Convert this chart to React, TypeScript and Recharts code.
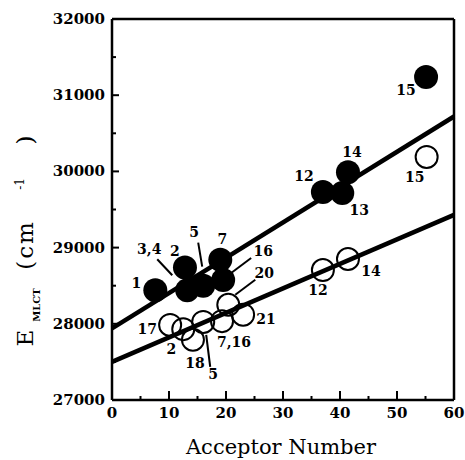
import { ScatterChart, Scatter, XAxis, YAxis, ReferenceLine } from "recharts"

// filled circles (upper series)
const filledLabels = ["1", "2", "3,4", "5", "7", "16", "12", "13", "14", "15"]
const filledAN = [7.6, 12.8, 13.2, 16.0, 19.0, 19.5, 37.0, 40.4, 41.4, 55.1]
const filledE = [28440, 28740, 28440, 28500, 28840, 28575, 29730, 29715, 29990, 31240]

// open circles (lower series)
const openLabels = ["17", "2", "18", "5", "7,16", "20", "21", "12", "14", "15"]
const openAN = [10.2, 12.5, 14.2, 16.0, 19.3, 20.4, 23.0, 37.0, 41.4, 55.2]
const openE = [27985, 27930, 27790, 28025, 28035, 28250, 28120, 28705, 28850, 30190]

// least-squares lines, value at AN = 0 and AN = 60
const fitAN = [0, 60]
const filledFit = [27940, 30720]
const openFit = [27500, 29430]

const xTicks = [0, 5, 10, 15, 20, 25, 30, 35, 40, 45, 50, 55, 60]
const yTicks = [27000, 27500, 28000, 28500, 29000, 29500, 30000, 30500, 31000, 31500, 32000]

interface Pt {
    an: number
    e: number
    label: string
}

const filledData: Pt[] = filledAN.map((an, i) => ({ an, e: filledE[i], label: filledLabels[i] }))
const openData: Pt[] = openAN.map((an, i) => ({ an, e: openE[i], label: openLabels[i] }))

// where each number sits relative to its circle, with optional pointer line
type Place = { dx: number; dy: number; lead?: number[] }
const filledPlace: Record<string, Place> = {
    "1": { dx: -19, dy: -7 },
    "2": { dx: -10, dy: -16 },
    "3,4": { dx: -38, dy: -41, lead: [-30, -31, -15, -15] },
    "5": { dx: -9, dy: -54, lead: [-5, -43, -1, -19] },
    "7": { dx: 2, dy: -21 },
    "16": { dx: 40, dy: -29, lead: [28, -22, 8, -7] },
    "12": { dx: -19, dy: -16 },
    "13": { dx: 17, dy: 17 },
    "14": { dx: 4, dy: -20 },
    "15": { dx: -20, dy: 13 },
}
const openPlace: Record<string, Place> = {
    "17": { dx: -23, dy: 4 },
    "2": { dx: -12, dy: 20 },
    "18": { dx: 2, dy: 23 },
    "5": { dx: 10, dy: 52, lead: [7, 45, 3, 13] },
    "7,16": { dx: 12, dy: 21 },
    "20": { dx: 36, dy: -32, lead: [27, -25, 7, -10] },
    "21": { dx: 23, dy: 4 },
    "12": { dx: -5, dy: 20 },
    "14": { dx: 23, dy: 12 },
    "15": { dx: -12, dy: 20 },
}

const serif = "'DejaVu Serif', serif"

function BottomTick({ x, y, payload }: any) {
    const major = payload.value % 10 === 0
    return (
        <g>
            <line x1={x} y1={y} x2={x} y2={y - (major ? 9 : 4)} stroke="#000" strokeWidth={2} />
            {major && (
                <text x={x} y={y + 18} textAnchor="middle" fontFamily={serif} fontWeight="bold" fontSize={15} fill="#000">
                    {payload.value}
                </text>
            )}
        </g>
    )
}

function TopTick({ x, y, payload }: any) {
    const major = payload.value % 10 === 0
    return <line x1={x} y1={y} x2={x} y2={y + (major ? 8 : 4)} stroke="#000" strokeWidth={2} />
}

function LeftTick({ x, y, payload }: any) {
    const major = payload.value % 1000 === 0
    return (
        <g>
            <line x1={x} y1={y} x2={x + (major ? 7 : 4)} y2={y} stroke="#000" strokeWidth={2} />
            {major && (
                <text x={x - 7} y={y + 5} textAnchor="end" fontFamily={serif} fontWeight="bold" fontSize={15} fill="#000">
                    {payload.value}
                </text>
            )}
        </g>
    )
}

function RightTick({ x, y, payload }: any) {
    const major = payload.value % 1000 === 0
    return <line x1={x} y1={y} x2={x - (major ? 7 : 4)} y2={y} stroke="#000" strokeWidth={2} />
}

function YTitle() {
    const big = 23
    return (
        <g fontFamily={serif} fill="#000">
            <text x={33} y={338} transform="rotate(-90 33 338)" textAnchor="middle" fontSize={big}>E</text>
            <text x={40} y={305} transform="rotate(-90 40 305)" textAnchor="middle" fontSize={10} fontWeight="bold">MLCT</text>
            <text x={33} y={245} transform="rotate(-90 33 245)" textAnchor="middle" fontSize={big} letterSpacing={2}>(cm</text>
            <text x={24} y={184} transform="rotate(-90 24 184)" textAnchor="middle" fontSize={12}>-1</text>
            <text x={33} y={140} transform="rotate(-90 33 140)" textAnchor="middle" fontSize={big}>)</text>
        </g>
    )
}

function XTitle() {
    return (
        <text x={281} y={454} textAnchor="middle" fontFamily={serif} fontSize={21} fill="#000">
            Acceptor Number
        </text>
    )
}

function FilledDot({ cx, cy }: any) {
    return <circle cx={cx} cy={cy} r={12} fill="#000" />
}

function OpenDot({ cx, cy }: any) {
    return <circle cx={cx} cy={cy} r={11} fill="none" stroke="#000" strokeWidth={2} />
}

function makeLabel(places: Record<string, Place>) {
    return function PointLabel({ cx, cy, payload }: any) {
        const p = places[payload.label]
        if (!p) return <g />
        return (
            <g>
                {p.lead && (
                    <line
                        x1={cx + p.lead[0]}
                        y1={cy + p.lead[1]}
                        x2={cx + p.lead[2]}
                        y2={cy + p.lead[3]}
                        stroke="#000"
                        strokeWidth={2}
                    />
                )}
                <text
                    x={cx + p.dx}
                    y={cy + p.dy + 5}
                    textAnchor="middle"
                    fontFamily={serif}
                    fontWeight="bold"
                    fontSize={14}
                    fill="#000"
                >
                    {payload.label}
                </text>
            </g>
        )
    }
}

const FilledLabel = makeLabel(filledPlace)
const OpenLabel = makeLabel(openPlace)

export default function App() {
    return (
        <div style={{ position: "absolute", left: 0, top: 0, background: "#fff" }}>
            <ScatterChart width={465} height={460} margin={{ top: 0, right: 0, bottom: 0, left: 0 }}>
                <XAxis
                    type="number"
                    dataKey="an"
                    domain={[0, 60]}
                    ticks={xTicks}
                    interval={0}
                    height={60}
                    tickSize={0}
                    tickMargin={0}
                    tickLine={false}
                    axisLine={{ stroke: "#000", strokeWidth: 2.5 }}
                    tick={<BottomTick />}
                    label={<XTitle />}
                />
                <XAxis
                    xAxisId="top"
                    orientation="top"
                    type="number"
                    dataKey="an"
                    domain={[0, 60]}
                    ticks={xTicks}
                    interval={0}
                    height={19}
                    tickSize={0}
                    tickMargin={0}
                    tickLine={false}
                    axisLine={{ stroke: "#000", strokeWidth: 2.5 }}
                    tick={<TopTick />}
                />
                <YAxis
                    type="number"
                    dataKey="e"
                    domain={[27000, 32000]}
                    ticks={yTicks}
                    interval={0}
                    width={112}
                    tickSize={0}
                    tickMargin={0}
                    tickLine={false}
                    axisLine={{ stroke: "#000", strokeWidth: 2.5 }}
                    tick={<LeftTick />}
                    label={<YTitle />}
                />
                <YAxis
                    yAxisId="right"
                    orientation="right"
                    type="number"
                    dataKey="e"
                    domain={[27000, 32000]}
                    ticks={yTicks}
                    interval={0}
                    width={11}
                    tickSize={0}
                    tickMargin={0}
                    tickLine={false}
                    axisLine={{ stroke: "#000", strokeWidth: 2.5 }}
                    tick={<RightTick />}
                />
                <ReferenceLine
                    segment={[
                        { x: fitAN[0], y: filledFit[0] },
                        { x: fitAN[1], y: filledFit[1] },
                    ]}
                    stroke="#000"
                    strokeWidth={4.5}
                />
                <ReferenceLine
                    segment={[
                        { x: fitAN[0], y: openFit[0] },
                        { x: fitAN[1], y: openFit[1] },
                    ]}
                    stroke="#000"
                    strokeWidth={4.5}
                />
                <Scatter data={filledData} shape={<FilledDot />} isAnimationActive={false} />
                <Scatter data={openData} shape={<OpenDot />} isAnimationActive={false} />
                <Scatter data={filledData} shape={<FilledLabel />} isAnimationActive={false} />
                <Scatter data={openData} shape={<OpenLabel />} isAnimationActive={false} />
            </ScatterChart>
        </div>
    )
}
